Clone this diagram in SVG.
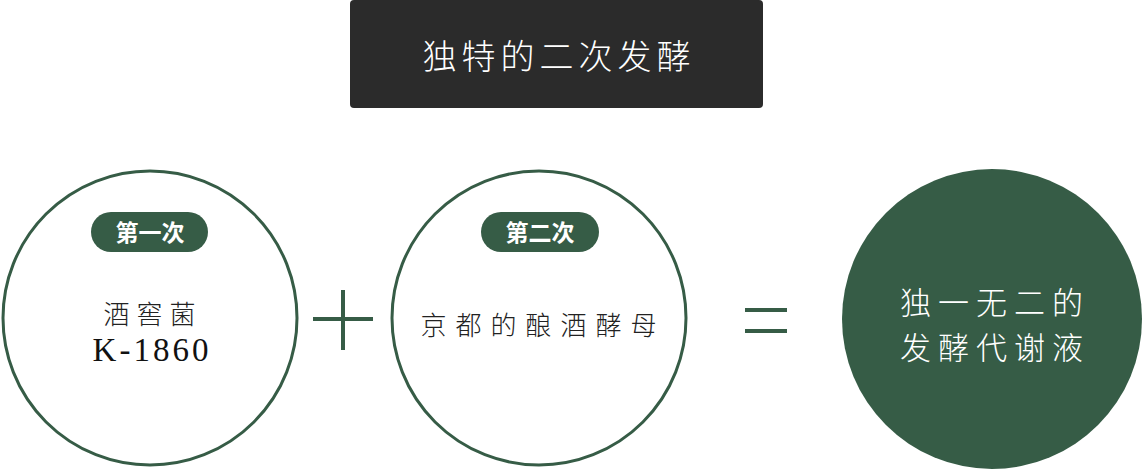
<svg xmlns="http://www.w3.org/2000/svg" width="1142" height="470" viewBox="0 0 1142 470">
<defs>
<style>
.cjk{font-family:"Noto Sans CJK SC","Noto Sans CJK JP",sans-serif;font-weight:300;text-anchor:middle}
.pilltxt{font-family:"Noto Sans CJK SC",sans-serif;font-weight:700;font-size:23px;fill:#ffffff;text-anchor:middle}
.ring{fill:#ffffff;stroke:#365c46;stroke-width:3}
.pill{fill:#365c46}
.op{stroke:#365c46;stroke-width:4;fill:none}
</style>
</defs>
<rect width="1142" height="470" fill="#ffffff"/>
<g id="title">
<rect x="350" y="0" width="413" height="108" rx="4" fill="#2b2b2b"/>
<text class="cjk" x="559" y="69" font-size="34" fill="#ffffff" letter-spacing="5">独特的二次发酵</text>
</g>
<g id="node-first">
<circle class="ring" cx="150" cy="318" r="147"/>
<rect class="pill" x="91" y="212" width="117" height="40" rx="20"/>
<text class="pilltxt" x="150" y="241">第一次</text>
<text class="cjk" x="153" y="324" font-size="26" fill="#222" letter-spacing="7">酒窖菌</text>
<text x="152" y="361" font-family="Liberation Serif,serif" font-size="33" fill="#111" text-anchor="middle" letter-spacing="3">K-1860</text>
</g>
<g id="node-second">
<circle class="ring" cx="539" cy="318" r="147"/>
<rect class="pill" x="481" y="212" width="118" height="40" rx="20"/>
<text class="pilltxt" x="540" y="241">第二次</text>
<text class="cjk" x="543" y="335" font-size="26" fill="#222" letter-spacing="9">京都的酿酒酵母</text>
</g>
<g id="node-result">
<circle cx="992" cy="319" r="150" fill="#365c46"/>
<text class="cjk" x="995" y="314" font-size="31" fill="#ffffff" letter-spacing="7">独一无二的</text>
<text class="cjk" x="995" y="359" font-size="31" fill="#ffffff" letter-spacing="7">发酵代谢液</text>
</g>
<g id="connectors">
<path class="op" d="M313 319H373M343 290V350"/>
<path class="op" d="M745 310H787M745 331H787"/>
</g>
</svg>
